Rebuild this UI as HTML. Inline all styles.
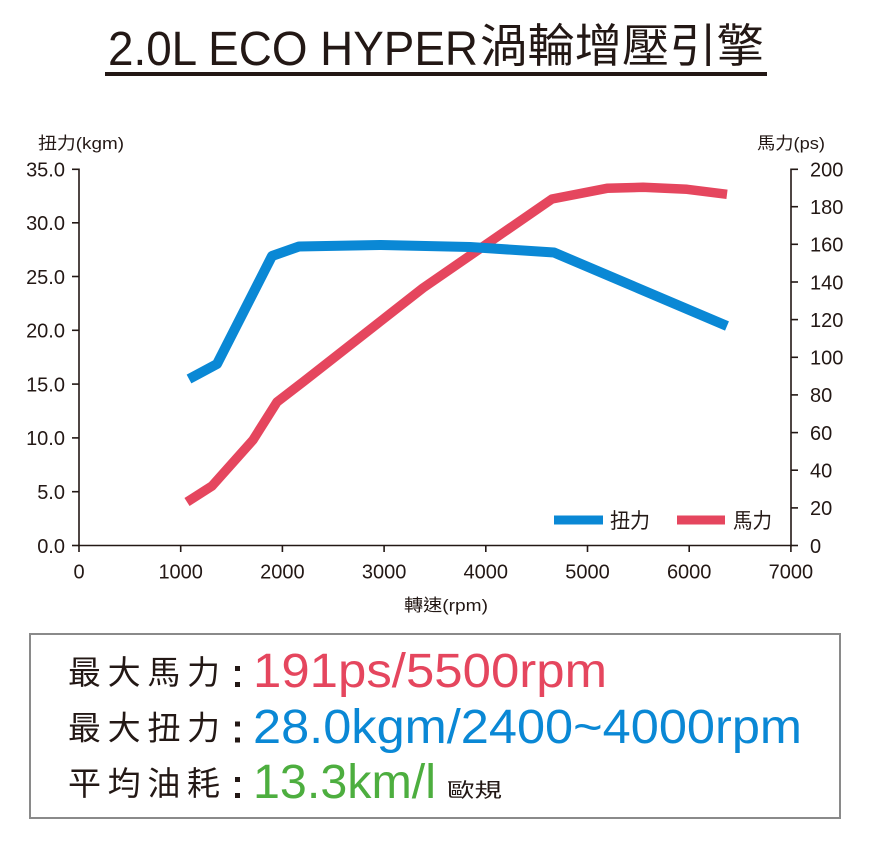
<!DOCTYPE html>
<html>
<head>
<meta charset="utf-8">
<style>
html,body{margin:0;padding:0;background:#fff;}
body{width:869px;height:844px;overflow:hidden;}
svg{display:block;}
.t{font-family:"Liberation Sans","Noto Sans CJK TC",sans-serif;fill:#231815;}
</style>
</head>
<body>
<svg width="869" height="844" viewBox="0 0 869 844" xmlns="http://www.w3.org/2000/svg">
<rect width="869" height="844" fill="#fff"/>

<!-- Title -->
<text class="t" x="108" y="65" font-size="48" textLength="370" lengthAdjust="spacingAndGlyphs">2.0L ECO HYPER</text>
<text class="t" x="480" y="62" font-size="46" textLength="284" lengthAdjust="spacingAndGlyphs" style="font-family:'Noto Sans CJK TC',sans-serif">渦輪增壓引擎</text>
<rect x="105" y="72" width="662" height="4" fill="#231815"/>

<!-- axis titles -->
<text class="t" x="38" y="149" font-size="17" textLength="86" lengthAdjust="spacingAndGlyphs">扭力(kgm)</text>
<text class="t" x="757" y="149" font-size="17" textLength="68" lengthAdjust="spacingAndGlyphs">馬力(ps)</text>
<text class="t" x="404" y="611" font-size="17" textLength="84" lengthAdjust="spacingAndGlyphs">轉速(rpm)</text>

<!-- axes -->
<g stroke="#231815" stroke-width="1.6" fill="none">
  <line x1="79" y1="168.5" x2="79" y2="546"/>
  <line x1="791" y1="168.5" x2="791" y2="546"/>
  <line x1="78" y1="545.5" x2="792" y2="545.5"/>
  <line x1="72" y1="545.5" x2="79" y2="545.5"/>
  <line x1="72" y1="491.7" x2="79" y2="491.7"/>
  <line x1="72" y1="437.9" x2="79" y2="437.9"/>
  <line x1="72" y1="384.1" x2="79" y2="384.1"/>
  <line x1="72" y1="330.3" x2="79" y2="330.3"/>
  <line x1="72" y1="276.5" x2="79" y2="276.5"/>
  <line x1="72" y1="222.8" x2="79" y2="222.8"/>
  <line x1="72" y1="169.3" x2="79" y2="169.3"/>
  <line x1="791" y1="545.5" x2="798" y2="545.5"/>
  <line x1="791" y1="507.9" x2="798" y2="507.9"/>
  <line x1="791" y1="470.2" x2="798" y2="470.2"/>
  <line x1="791" y1="432.6" x2="798" y2="432.6"/>
  <line x1="791" y1="394.9" x2="798" y2="394.9"/>
  <line x1="791" y1="357.3" x2="798" y2="357.3"/>
  <line x1="791" y1="319.6" x2="798" y2="319.6"/>
  <line x1="791" y1="282.0" x2="798" y2="282.0"/>
  <line x1="791" y1="244.3" x2="798" y2="244.3"/>
  <line x1="791" y1="206.7" x2="798" y2="206.7"/>
  <line x1="791" y1="169.3" x2="798" y2="169.3"/>
  <line x1="79" y1="545.5" x2="79" y2="552"/>
  <line x1="180.7" y1="545.5" x2="180.7" y2="552"/>
  <line x1="282.4" y1="545.5" x2="282.4" y2="552"/>
  <line x1="384.1" y1="545.5" x2="384.1" y2="552"/>
  <line x1="485.8" y1="545.5" x2="485.8" y2="552"/>
  <line x1="587.5" y1="545.5" x2="587.5" y2="552"/>
  <line x1="689.2" y1="545.5" x2="689.2" y2="552"/>
  <line x1="790.9" y1="545.5" x2="790.9" y2="552"/>
</g>

<!-- left labels -->
<g class="t" font-size="20" text-anchor="end">
  <text x="65" y="552.8">0.0</text>
  <text x="65" y="499.0">5.0</text>
  <text x="65" y="445.2">10.0</text>
  <text x="65" y="391.4">15.0</text>
  <text x="65" y="337.6">20.0</text>
  <text x="65" y="283.8">25.0</text>
  <text x="65" y="230.1">30.0</text>
  <text x="65" y="176.3">35.0</text>
</g>
<!-- right labels -->
<g class="t" font-size="20">
  <text x="810" y="552.8">0</text>
  <text x="810" y="515.2">20</text>
  <text x="810" y="477.5">40</text>
  <text x="810" y="439.9">60</text>
  <text x="810" y="402.2">80</text>
  <text x="810" y="364.6">100</text>
  <text x="810" y="326.9">120</text>
  <text x="810" y="289.3">140</text>
  <text x="810" y="251.6">160</text>
  <text x="810" y="214.0">180</text>
  <text x="810" y="176.6">200</text>
</g>
<!-- x labels -->
<g class="t" font-size="20" text-anchor="middle">
  <text x="79" y="578.5">0</text>
  <text x="180.7" y="578.5">1000</text>
  <text x="282.4" y="578.5">2000</text>
  <text x="384.1" y="578.5">3000</text>
  <text x="485.8" y="578.5">4000</text>
  <text x="587.5" y="578.5">5000</text>
  <text x="689.2" y="578.5">6000</text>
  <text x="790.9" y="578.5">7000</text>
</g>

<!-- series -->
<polyline fill="none" stroke="#e5465e" stroke-width="9.5" stroke-linejoin="round" stroke-linecap="butt"
  points="187,502 212,486 253,440 277,402 303,382 423,288 552,199 607,188.3 643,187.3 687,189.3 727,194.3"/>
<polyline fill="none" stroke="#0a88d5" stroke-width="10" stroke-linejoin="round" stroke-linecap="butt"
  points="189,379 217,364 272,256 299,246.5 380,245 470,247 554,252.5 727,326"/>

<!-- legend -->
<rect x="554" y="515.5" width="49" height="9" fill="#0a88d5"/>
<text class="t" x="610" y="528" font-size="21" textLength="40" lengthAdjust="spacingAndGlyphs">扭力</text>
<rect x="677" y="515.5" width="48" height="9" fill="#e5465e"/>
<text class="t" x="733" y="528" font-size="21" textLength="39" lengthAdjust="spacingAndGlyphs">馬力</text>

<!-- info box -->
<rect x="30" y="634" width="810" height="184" fill="#fff" stroke="#8a8a8a" stroke-width="2"/>

<g class="t" font-size="33" style="font-family:'Noto Sans CJK TC',sans-serif">
  <text x="68" y="684" textLength="152" lengthAdjust="spacing">最大馬力</text>
  <text x="68" y="739.5" textLength="152" lengthAdjust="spacing">最大扭力</text>
  <text x="68" y="795" textLength="152" lengthAdjust="spacing">平均油耗</text>
</g>
<g fill="#231815">
  <rect x="235" y="666" width="5" height="5"/>
  <rect x="235" y="682" width="5" height="5"/>
  <rect x="235" y="721.5" width="5" height="5"/>
  <rect x="235" y="737.5" width="5" height="5"/>
  <rect x="235" y="777" width="5" height="5"/>
  <rect x="235" y="793" width="5" height="5"/>
</g>
<text x="253" y="687" font-size="48" fill="#e5465e" style="font-family:'Liberation Sans',sans-serif" textLength="354" lengthAdjust="spacingAndGlyphs">191ps/5500rpm</text>
<text x="253" y="743" font-size="48" fill="#0a88d5" style="font-family:'Liberation Sans',sans-serif" textLength="549" lengthAdjust="spacingAndGlyphs">28.0kgm/2400~4000rpm</text>
<text x="253" y="798" font-size="48" fill="#4dae3f" style="font-family:'Liberation Sans',sans-serif" textLength="183" lengthAdjust="spacingAndGlyphs">13.3km/l</text>
<text class="t" x="447" y="797" font-size="20" textLength="55" lengthAdjust="spacingAndGlyphs" style="font-family:'Noto Sans CJK TC',sans-serif">歐規</text>
</svg>
</body>
</html>
